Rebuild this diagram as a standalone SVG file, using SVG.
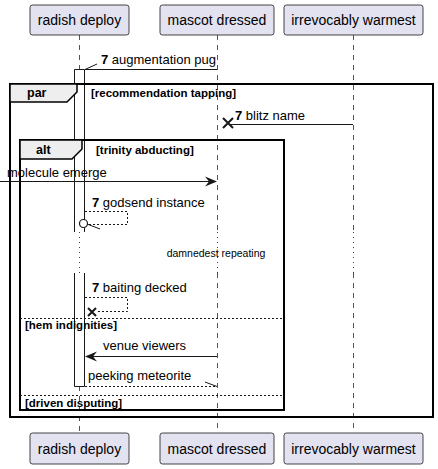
<svg xmlns="http://www.w3.org/2000/svg" width="438" height="469" viewBox="0 0 438 469">
<style>
text{font-family:"Liberation Sans",Arial,sans-serif;fill:#000}
.p{font-size:14px;text-anchor:middle}
.pb{fill:#E2E2F0;stroke:#181818;stroke-width:0.8}
.m{font-size:13px}
.b{font-weight:bold}
.fl{font-size:11.5px;font-weight:bold}
.ll{stroke:#555;stroke-width:1;stroke-dasharray:5,5;fill:none}
.dl{stroke:#8B1A4A;stroke-width:1;stroke-dasharray:1,4;fill:none}
.ln{stroke:#181818;stroke-width:1;fill:none}
.ds{stroke:#181818;stroke-width:1;stroke-dasharray:2,2;fill:none}
.fr{fill:none;stroke:#000;stroke-width:2}
.tab{fill:#EEEEEE;stroke:#000;stroke-width:1.5}
</style>
<g id="lifelines">
<line class="ll" x1="79.5" y1="35" x2="79.5" y2="69"/>
<line class="dl" x1="79.5" y1="232" x2="79.5" y2="273"/>
<line class="ll" x1="79.5" y1="386" x2="79.5" y2="433"/>
<line class="ll" x1="217.5" y1="35" x2="217.5" y2="232"/>
<line class="dl" x1="217.5" y1="232" x2="217.5" y2="273"/>
<line class="ll" x1="217.5" y1="273" x2="217.5" y2="433"/>
<line class="ll" x1="353.5" y1="35" x2="353.5" y2="232"/>
<line class="dl" x1="353.5" y1="232" x2="353.5" y2="273"/>
<line class="ll" x1="353.5" y1="273" x2="353.5" y2="433"/>
</g>
<g id="activation">
<rect x="74" y="69" width="11" height="163" fill="#fff" stroke="none"/>
<path class="ln" d="M74.5,232 V69.5 H84.5 V232"/>
<rect x="74" y="273" width="11" height="113" fill="#fff" stroke="none"/>
<path class="ln" d="M74.5,273 V386.5 H84.5 V273"/>
</g>
<g id="frame-par">
<rect class="fr" x="10" y="84" width="423" height="333"/>
<polygon class="tab" points="10,84 77,84 77,92 67,102 10,102"/>
<text class="fl" x="27" y="97" style="font-size:12.5px">par</text>
<text class="fl" x="91" y="97">[recommendation tapping]</text>
</g>
<g id="frame-alt">
<rect class="fr" x="20" y="140" width="264" height="270"/>
<polygon class="tab" points="20,140 82,140 82,149 72,159 20,159"/>
<text class="fl" x="36" y="154" style="font-size:12.5px">alt</text>
<text class="fl" x="96" y="154">[trinity abducting]</text>
<line class="ds" x1="20" y1="318.5" x2="284" y2="318.5"/>
<text class="fl" x="25" y="329">[hem indignities]</text>
<line class="ds" x1="20" y1="395.5" x2="284" y2="395.5"/>
<text class="fl" x="25" y="407">[driven disputing]</text>
</g>
<g id="connectors">
<line class="ln" x1="217" y1="69.5" x2="85" y2="69.5"/>
<line class="ln" x1="85" y1="69.5" x2="97" y2="64"/>
<text class="m" x="101" y="64"><tspan class="b">7</tspan> augmentation pug</text>

<line class="ln" x1="353" y1="124.5" x2="230" y2="124.5"/>
<path d="M223,118 L233,128 M223,128 L233,118" stroke="#181818" stroke-width="2" fill="none"/>
<text class="m" x="235" y="120"><tspan class="b">7</tspan> blitz name</text>

<line class="ln" x1="0" y1="181.5" x2="214" y2="181.5"/>
<polygon points="217,181.5 205,176.5 209,181.5 205,186.5" fill="#181818"/>
<text class="m" x="7" y="177">molecule emerge</text>

<path class="ds" d="M85,211.5 H127.5 V224.5 H88"/>
<circle cx="83.5" cy="223.5" r="4" fill="#fff" stroke="#181818" stroke-width="1.2"/>
<line class="ln" x1="87" y1="224" x2="100" y2="229"/>
<text class="m" x="92" y="207"><tspan class="b">7</tspan> godsend instance</text>

<text x="216" y="257" style="font-size:10.5px;text-anchor:middle">damnedest repeating</text>

<path class="ds" d="M85,297.5 H127.5 V311.5 H96"/>
<path d="M88,308 L96,316 M88,316 L96,308" stroke="#181818" stroke-width="2" fill="none"/>
<text class="m" x="92" y="292"><tspan class="b">7</tspan> baiting decked</text>

<line class="ln" x1="217" y1="356.5" x2="88" y2="356.5"/>
<polygon points="85,356.5 97,351.5 93,356.5 97,361.5" fill="#181818"/>
<text class="m" x="103" y="350">venue viewers</text>

<line class="ds" x1="85" y1="386.5" x2="217" y2="386.5"/>
<line class="ln" x1="217" y1="386.5" x2="205" y2="382"/>
<text class="m" x="88" y="380">peeking meteorite</text>
</g>
<g id="p-radish">
<rect class="pb" x="30" y="5" width="99" height="30" rx="2.5"/>
<text class="p" x="79.5" y="25">radish deploy</text>
<rect class="pb" x="30" y="433" width="99" height="31" rx="2.5"/>
<text class="p" x="79.5" y="454">radish deploy</text>
</g>
<g id="p-mascot">
<rect class="pb" x="160" y="5" width="114" height="30" rx="2.5"/>
<text class="p" x="217" y="25">mascot dressed</text>
<rect class="pb" x="160" y="433" width="114" height="31" rx="2.5"/>
<text class="p" x="217" y="454">mascot dressed</text>
</g>
<g id="p-irrevocably">
<rect class="pb" x="284" y="5" width="139" height="30" rx="2.5"/>
<text class="p" x="353.5" y="25">irrevocably warmest</text>
<rect class="pb" x="284" y="433" width="139" height="31" rx="2.5"/>
<text class="p" x="353.5" y="454">irrevocably warmest</text>
</g>
</svg>
